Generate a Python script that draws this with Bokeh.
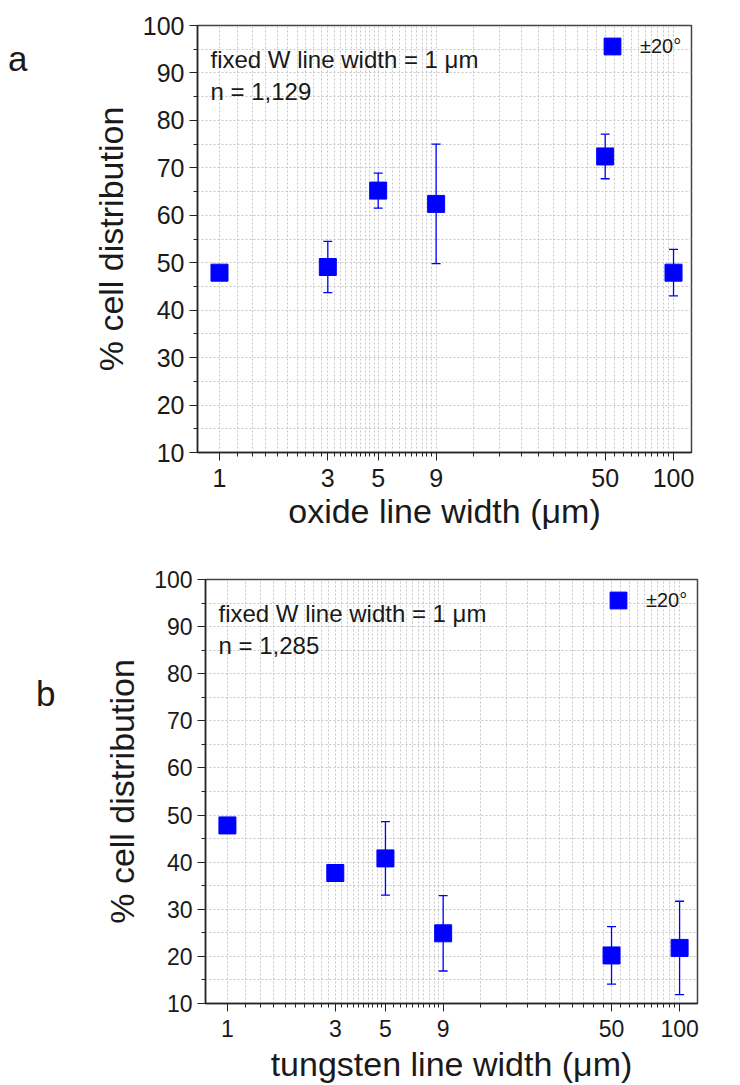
from bokeh.plotting import figure
from bokeh.models import (FixedTicker, Whisker, TeeHead, ColumnDataSource, Label,
                          Legend, LegendItem, Range1d, Div)
from bokeh.layouts import column, row
from bokeh.embed import file_html
from bokeh.resources import INLINE

# ---------------- data ----------------
line_widths = [1, 3, 5, 9, 50, 100]
oxide_pct = [47.9, 49.1, 65.2, 62.4, 72.4, 47.9]
oxide_err = [0.0, 5.4, 3.7, 12.6, 4.7, 4.9]
tungsten_pct = [47.8, 37.7, 40.8, 24.9, 20.2, 21.8]
tungsten_err = [0.0, 0.0, 7.8, 8.0, 6.1, 9.9]

x_tick_values = [1, 3, 5, 9, 50, 100]
y_tick_values = [10, 20, 30, 40, 50, 60, 70, 80, 90, 100]
y_minor_values = [15, 25, 35, 45, 55, 65, 75, 85, 95]
series_label = "±20°"

FONT = "Liberation Sans"
BLUE = "#0000FF"
LETTER_W = 60
GRID = "#c6c6c6"


def minor_between(ticks, n=9):
    out = []
    for a, b in zip(ticks[:-1], ticks[1:]):
        step = (b - a) / (n + 1)
        out += [a + step * (k + 1) for k in range(n)]
    return out


def make_panel(xs, ys, errs, xlabel, n_text, height,
               left, right, top, bottom, legend_pad, xlabel_standoff, tick_fs):
    p = figure(width=740 - LETTER_W, height=height, x_axis_type="log",
               x_range=Range1d(0.8, 120), y_range=Range1d(10, 100),
               output_backend="svg", toolbar_location=None,
               min_border_left=left - LETTER_W, min_border_right=right,
               min_border_top=top, min_border_bottom=bottom)
    p.background_fill_color = "white"
    p.border_fill_color = "white"
    p.outline_line_color = "#444444"
    p.outline_line_width = 1.5

    x_minor = minor_between(x_tick_values)
    p.xaxis.ticker = FixedTicker(ticks=x_tick_values, minor_ticks=x_minor)
    p.xaxis.major_label_overrides = {v: str(v) for v in x_tick_values}
    p.yaxis.ticker = FixedTicker(ticks=y_tick_values, minor_ticks=y_minor_values)

    for ax in (p.xaxis, p.yaxis):
        ax.axis_line_color = "#222222"
        ax.axis_line_width = 1.5
        ax.major_tick_line_color = "#222222"
        ax.minor_tick_line_color = "#222222"
        ax.major_tick_in = 0
        ax.major_tick_out = 8
        ax.minor_tick_in = 0
        ax.minor_tick_out = 4
        ax.major_label_text_font = FONT
        ax.major_label_text_font_size = tick_fs
        ax.major_label_text_color = "#1a1a1a"
        ax.axis_label_text_font = FONT
        ax.axis_label_text_font_size = "34px"
        ax.axis_label_text_font_style = "normal"
        ax.axis_label_text_color = "#1a1a1a"
    p.xaxis.major_label_standoff = 8
    p.yaxis.major_label_standoff = 5
    p.xaxis.axis_label = xlabel
    p.yaxis.axis_label = "% cell distribution"
    p.xaxis.axis_label_standoff = xlabel_standoff
    p.yaxis.axis_label_standoff = 10

    for g in (p.xgrid, p.ygrid):
        g.grid_line_color = GRID
        g.grid_line_dash = "2 2"
        g.grid_line_width = 1
        g.minor_grid_line_color = GRID
        g.minor_grid_line_dash = "2 2"
        g.minor_grid_line_width = 1

    src = ColumnDataSource(dict(
        x=xs, y=ys,
        lo=[v - e for v, e in zip(ys, errs)],
        hi=[v + e for v, e in zip(ys, errs)],
    ))
    wh = Whisker(source=src, base="x", lower="lo", upper="hi", dimension="height",
                 line_color=BLUE, line_width=1.3,
                 upper_head=TeeHead(size=9, line_color=BLUE, line_width=1.3),
                 lower_head=TeeHead(size=9, line_color=BLUE, line_width=1.3))
    p.add_layout(wh)
    r = p.scatter("x", "y", source=src, marker="square", size=17,
                  fill_color=BLUE, line_color=BLUE)

    legend = Legend(items=[LegendItem(label=series_label, renderers=[r])],
                    location="top_right", orientation="vertical",
                    glyph_width=42, glyph_height=42, label_width=51,
                    label_standoff=7, padding=legend_pad, margin=0,
                    border_line_color=None, background_fill_alpha=0,
                    label_text_font=FONT, label_text_font_size="20px",
                    label_text_color="#1a1a1a")
    p.add_layout(legend)

    p.add_layout(Label(x=0.8, y=100, x_offset=13, y_offset=-34,
                       text="fixed W line width = 1 μm", text_font=FONT,
                       text_font_size="24px", text_color="#1a1a1a",
                       text_baseline="alphabetic"))
    p.add_layout(Label(x=0.8, y=100, x_offset=13, y_offset=-66,
                       text=n_text, text_font=FONT,
                       text_font_size="24px", text_color="#1a1a1a",
                       text_baseline="alphabetic"))
    return p


def letter_div(letter, height, pad_left, pad_top):
    return Div(text=letter, width=LETTER_W, height=height, margin=0,
               styles={"font-family": FONT, "font-size": "35px",
                       "color": "#1a1a1a", "padding-left": f"{pad_left}px",
                       "padding-top": f"{pad_top}px", "line-height": "1.1",
                       "box-sizing": "border-box"})


p1 = make_panel(line_widths, oxide_pct, oxide_err, "oxide line width (μm)",
                "n = 1,129", 540, 197, 49, 25, 88, 2, 2, "25px")
p2 = make_panel(line_widths, tungsten_pct, tungsten_err, "tungsten line width (μm)",
                "n = 1,285", 545, 205, 43, 39, 81, 0, 5, "23px")

layout = column(row(letter_div("a", 540, 8, 40), p1, spacing=0),
                row(letter_div("b", 545, 36, 135), p2, spacing=0),
                spacing=0)
open("out.html", "w").write(file_html(layout, INLINE))
